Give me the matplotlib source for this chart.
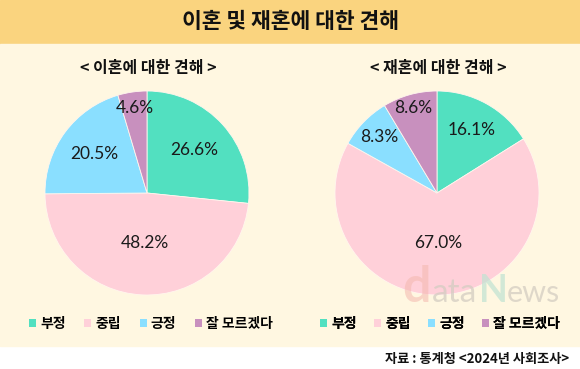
import numpy as np
import matplotlib
matplotlib.use("Agg")
import matplotlib.pyplot as plt
from matplotlib.patches import Rectangle, Patch

W, H = 580, 369

categories = ["부정", "중립", "긍정", "잘 모르겠다"]
divorce = [26.6, 48.2, 20.5, 4.6]
remarriage = [16.1, 67.0, 8.3, 8.6]
colors = ["#52E0C0", "#FFD0D9", "#8ADFFF", "#C890BE"]

plt.rcParams["font.family"] = ["Noto Sans CJK KR", "DejaVu Sans"]

fig = plt.figure(figsize=(5.8, 3.69), dpi=100)
ax = fig.add_axes([0, 0, 1, 1])


def draw_pie(values, cx, subtitle, label_r, legend_x, colsp):
    cy = H - 193
    wedges, texts, autotexts = ax.pie(
        values, colors=colors, startangle=90, counterclock=False,
        center=(cx, cy), radius=102, autopct="%.1f%%",
        wedgeprops=dict(edgecolor="#fff6ee", linewidth=0.6),
        textprops=dict(fontsize=12.5, color="#1a1a1a", family=["Lato", "DejaVu Sans"]),
    )
    # push each percentage label to its own distance from the centre
    for w, t, r in zip(wedges, autotexts, label_r):
        ang = np.deg2rad((w.theta1 + w.theta2) / 2)
        t.set_position((cx + r * 102 * np.cos(ang), cy + r * 102 * np.sin(ang)))
        t.set_ha("center")
        t.set_va("center")
    ax.text(cx + 1, H - 68, subtitle, ha="center", va="center", fontsize=11.5,
            fontweight="bold", color="#111111")
    handles = [Patch(facecolor=c) for c in colors]
    leg = ax.legend(handles, categories, loc="center", bbox_to_anchor=(legend_x, H - 324),
                    bbox_transform=ax.transData, ncol=4, frameon=False,
                    prop=dict(size=10, weight="bold"), handlelength=0.5,
                    handleheight=0.5, handletextpad=0.3, columnspacing=colsp,
                    borderpad=0, borderaxespad=0)
    ax.add_artist(leg)


# background bands
ax.add_patch(Rectangle((0, H - 44), W, 44, color="#FAD47F", zorder=0))
ax.add_patch(Rectangle((0, H - 346), W, 302, color="#FFF7E1", zorder=0))

ax.text(290, H - 22, "이혼 및 재혼에 대한 견해", ha="center", va="center",
        fontsize=15.5, fontweight="bold", color="#111111")

draw_pie(divorce, 147, "< 이혼에 대한 견해 >", [0.63, 0.49, 0.64, 0.84], 151, 1.35)
draw_pie(remarriage, 437, "< 재혼에 대한 견해 >", [0.71, 0.49, 0.79, 0.86], 440, 1.25)

# watermark
wm = dict(family=["Lato", "DejaVu Sans"], va="baseline", zorder=5)
ax.text(402, H - 302, "d", fontsize=36, fontweight="bold", color="#F4B8AE", alpha=0.55, **wm)
ax.text(432, H - 302, "ata", fontsize=24, color="#D4CDC2", alpha=0.75, **wm)
ax.text(479, H - 302, "N", fontsize=27, fontweight="bold", color="#BFE3D2", alpha=0.7, **wm)
ax.text(507, H - 302, "ews", fontsize=22, color="#D4CDC2", alpha=0.75, **wm)

ax.text(569, H - 359, "자료 : 통계청 <2024년 사회조사>", ha="right", va="center",
        fontsize=9.5, fontweight="bold", color="#111111")

ax.set_xlim(0, W)
ax.set_ylim(0, H)
ax.set_aspect("auto")
ax.axis("off")

fig.savefig("out.png", dpi=100)
